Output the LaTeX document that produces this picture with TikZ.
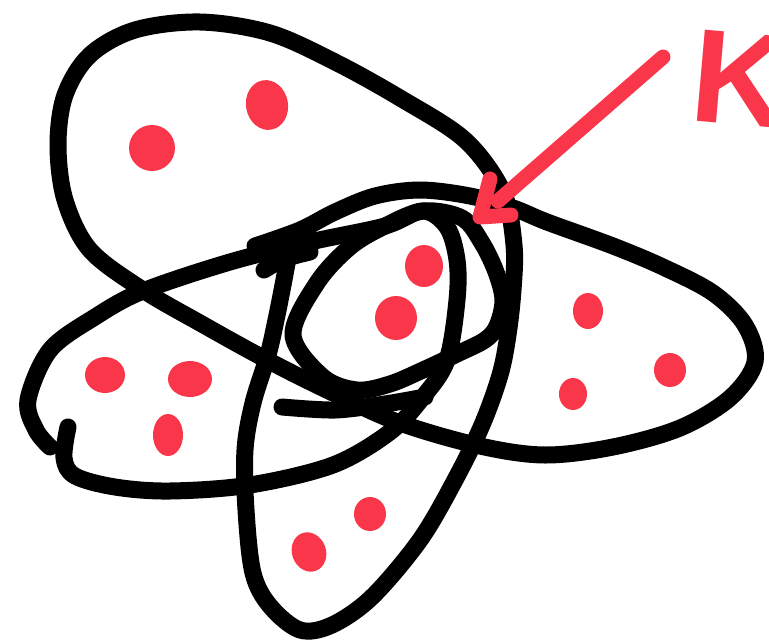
\documentclass[tikz,border=0pt]{standalone}
\usepackage{fontspec}
\setmainfont{Liberation Sans}
\usetikzlibrary{calc}
\definecolor{marker}{HTML}{F9364A}
\definecolor{ink}{HTML}{000000}

\begin{document}
\begin{tikzpicture}[x=1pt,y=-1pt,
  loop/.style={line width=17pt,line cap=round,line join=round,ink},
  spot/.style={fill=marker},
  chalk/.style={line width=15pt,line cap=round,line join=round,marker}]
  \useasboundingbox (0,0) rectangle (769,640);
  % long stroke: bottom set, top-left set, right set
  \draw[loop] plot[smooth,tension=0.55] coordinates {(288,258) (283,285) (276,320) (268,355) (253,403) (245,450) (246,510) (253,573) (270,606) (300,630) (332,625) (372,597) (420,540) (455,480) (482,425) (500,375) (508,335) (513,290) (514,245) (503,192) (465,140) (400,98) (335,62) (270,33) (200,22) (135,30) (90,55) (65,95) (58,145) (65,200) (90,250) (143,290) (200,323) (267,360) (333,393) (400,423) (480,446) (545,455) (613,447) (680,428) (730,398) (755,362) (745,325) (713,293) (663,267) (613,246) (547,222) (513,208) (470,196) (420,190) (375,196) (335,212) (300,230) (255,246)};
  \draw[loop] plot[smooth] coordinates {(264,270) (284,259) (310,252)};
  % left set
  \draw[loop] plot[smooth,tension=0.55] coordinates {(68,427) (64,458) (75,476) (115,487) (170,491) (250,485) (333,465) (390,432) (423,397) (447,360) (457,300) (457,260) (447,227) (423,211) (385,226) (310,242) (230,262) (143,291) (95,317) (50,350) (28,400) (36,430) (50,447)};
  % middle set
  \draw[loop] plot[smooth cycle,tension=0.55] coordinates {(293,335) (317,283) (350,247) (385,226) (423,211) (462,218) (482,243) (496,272) (503,300) (497,326) (485,340) (457,354) (423,370) (390,384) (357,390) (323,377)};
  \draw[loop] plot[smooth] coordinates {(282,407) (335,410) (385,404) (425,397)};
  \foreach \x/\y/\a/\b/\r in {152/148/23/23/0, 267/105/21/25/10, 105/375/20/18/0,
      190/379/22/18/0, 168/435/15/21/0, 424/266/19/21/0, 396/318/21/22/0,
      588/311/15/18/0, 670/370/16/17/0, 573/394/14/16/0, 370/514/16/17/0, 309/552/17/20/20}
    \fill[spot,rotate around={\r:(\x,\y)}] (\x,\y) ellipse [x radius=\a pt,y radius=\b pt];
  % pointer
  \coordinate (tail) at (663,57);
  \coordinate (tip) at (480,217);
  \draw[chalk] (tail) -- (498,201);
  \draw[chalk] (490,179) -- (tip) -- (511,215);
  \begin{scope}
    \clip (0,0) rectangle (769,640);
    \node[anchor=base west,inner sep=0pt,rotate=-5,text=marker,font=\fontsize{133}{133}\selectfont\bfseries] (kletter) at (688,120) {K};
  \end{scope}
\end{tikzpicture}
\end{document}
